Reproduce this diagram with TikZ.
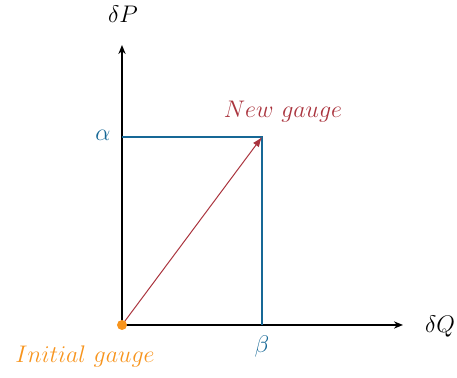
\documentclass[tikz,border=0pt]{standalone}
\usetikzlibrary{arrows.meta}
\definecolor{gblue}{RGB}{22,104,150}
\definecolor{gorange}{RGB}{247,148,29}
\definecolor{gred}{RGB}{170,52,62}
\begin{document}
\begin{tikzpicture}[x=0.5pt,y=-0.5pt,font=\large,
  axis/.style={line width=1.1pt,-{Stealth[length=4.5pt,width=3.6pt]}},
  bluebox/.style={gblue,line width=1.1pt},
  vec/.style={gred,line width=0.5pt,-{Latex[length=5pt,width=3.6pt]}}]
\useasboundingbox (0,0) rectangle (457,378);
\coordinate (O) at (122,325);
\coordinate (Ytop) at (122,45);
\coordinate (Xend) at (403,325);
\coordinate (C) at (262,137);
\coordinate (A) at (122,137);
\coordinate (B) at (262,325);
\draw[axis] (O) -- (Ytop);
\draw[axis] (O) -- (Xend);
\draw[bluebox] (A) -- (C) -- (B);
\draw[vec] (O) -- (C);
\fill[gorange] (O) circle (5);
\node (dP) at (123,14) {$\delta P$};
\node (dQ) at (440,327) {$\delta Q$};
\node[text=gblue] (al) at (103,135) {$\alpha$};
\node[text=gblue] (be) at (262,347) {$\beta$};
\node[text=gred] (ng) at (283,112) {$New\ gauge$};
\node[text=gorange] (ig) at (85,357) {$Initial\ gauge$};
\end{tikzpicture}
\end{document}
